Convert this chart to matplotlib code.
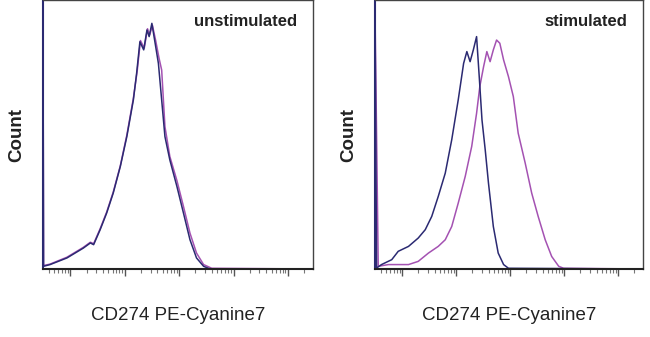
# CD274 PE-Cyanine7 histograms: unstimulated vs stimulated
import numpy as np
import matplotlib.pyplot as plt

plt.rcParams['font.family'] = ['Liberation Sans', 'DejaVu Sans']

# x in log10 fluorescence units, y as % of the unstimulated peak
unstim_navy_x = [0.50, 0.51, 0.63, 0.94, 1.24, 1.37, 1.43, 1.55, 1.67, 1.79, 1.92, 2.04, 2.16, 2.22,
                 2.28, 2.35, 2.41, 2.45, 2.50, 2.56, 2.62, 2.68, 2.74, 2.83, 2.96, 3.08, 3.20, 3.32,
                 3.45, 3.57, 5.46]
unstim_navy_y = [105, 1.1, 1.8, 4.5, 8.5, 10.6, 9.9, 16, 22.8, 30.9, 41.7, 53.9, 68.8, 79.7,
                 92.5, 89.2, 97.3, 94.6, 100, 91.9, 83.7, 68.8, 53.9, 44.4, 33.6, 22.8, 11.9, 4.5,
                 1.1, 0, 0]
unstim_purple_x = [0.50, 0.51, 0.63, 0.94, 1.24, 1.37, 1.43, 1.55, 1.67, 1.79, 1.92, 2.04, 2.16, 2.23,
                   2.29, 2.36, 2.42, 2.46, 2.51, 2.57, 2.63, 2.68, 2.74, 2.83, 2.96, 3.08, 3.20, 3.32,
                   3.45, 3.60, 5.46]
unstim_purple_y = [105, 1.4, 2.0, 4.8, 8.8, 10.9, 10.3, 16.4, 23.2, 31.3, 42.0, 54.5, 69.5, 80.5,
                   93.0, 89.9, 97.8, 95.3, 99.2, 93.0, 86.0, 81.0, 58.0, 45.8, 36.0, 25.5, 14.6, 6.5,
                   1.8, 0.3, 0]

stim_navy_x = [0.50, 0.53, 0.62, 0.81, 0.93, 1.12, 1.30, 1.43, 1.55, 1.67, 1.80, 1.92, 2.04, 2.14,
               2.20, 2.26, 2.32, 2.38, 2.43, 2.48, 2.54, 2.60, 2.69, 2.78, 2.88, 2.97, 5.46]
stim_navy_y = [105, 0.4, 1.8, 3.8, 7.2, 9.2, 12.6, 16, 21.4, 29.5, 39, 52.6, 68.8, 83.7,
               88.5, 84.4, 89.2, 94.6, 78, 60.7, 48.5, 35, 17.3, 6.5, 1.8, 0.3, 0]
stim_purple_x = [0.50, 0.56, 0.75, 0.93, 1.12, 1.30, 1.49, 1.67, 1.80, 1.92, 2.04, 2.17, 2.29, 2.38,
                 2.44, 2.51, 2.57, 2.63, 2.69, 2.75, 2.81, 2.88, 2.97, 3.06, 3.15, 3.28, 3.40, 3.52,
                 3.65, 3.77, 3.90, 3.99, 5.46]
stim_purple_y = [105, 1.1, 1.8, 1.8, 1.8, 3.1, 6.5, 9.2, 11.9, 17.3, 26.8, 37.7, 49.9, 63.4,
                 74.3, 82.4, 88.5, 84.4, 89.2, 93.2, 91.9, 85.1, 78.3, 70.2, 55.3, 43.1, 30.9, 21.4,
                 11.9, 5.1, 1.1, 0.3, 0]

navy = '#2b2a72'
purple = '#a452b2'

fig = plt.figure(figsize=(6.5, 3.37), dpi=100)
ax1 = fig.add_axes([43 / 650, 68 / 337, 270 / 650, 269 / 337])
ax2 = fig.add_axes([375 / 650, 68 / 337, 268 / 650, 269 / 337])

panels = [
    (ax1, unstim_navy_x, unstim_navy_y, unstim_purple_x, unstim_purple_y, 'unstimulated'),
    (ax2, stim_navy_x, stim_navy_y, stim_purple_x, stim_purple_y, 'stimulated'),
]

for ax, nx, ny, px, py, label in panels:
    ax.plot(10 ** np.array(px), py, color=purple, lw=1.1)
    ax.plot(10 ** np.array(nx), ny, color=navy, lw=1.1)
    ax.set_xscale('log')
    ax.set_xlim(10 ** 0.5, 10 ** 5.46)
    ax.set_ylim(0, 109.5)
    ax.set_yticks([])
    ax.tick_params(axis='x', which='major', length=5, width=1, color='#555', labelbottom=False)
    ax.tick_params(axis='x', which='minor', length=3, width=0.8, color='#777')
    for s in ['top', 'right']:
        ax.spines[s].set_color('#444')
        ax.spines[s].set_linewidth(1.0)
    ax.spines['left'].set_color(navy)
    ax.spines['left'].set_linewidth(1.5)
    ax.spines['bottom'].set_color('#222')
    ax.spines['bottom'].set_linewidth(1.5)
    ax.text(0.94, 0.92, label, transform=ax.transAxes, ha='right', va='center',
            fontsize=12, fontweight='bold', color='#222')
    ax.set_xlabel('CD274 PE-Cyanine7', fontsize=13.5, color='#222', labelpad=21)
    ax.set_ylabel('Count', fontsize=13.5, fontweight='bold', color='#222', labelpad=13)

fig.savefig('out.png', dpi=100)
